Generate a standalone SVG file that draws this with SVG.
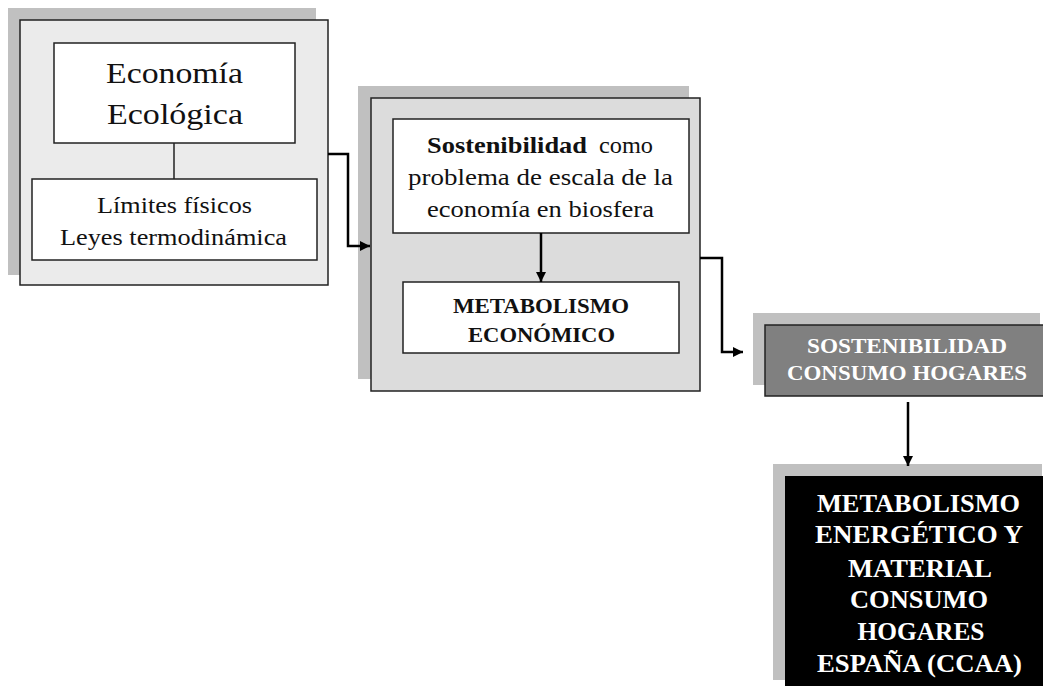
<svg xmlns="http://www.w3.org/2000/svg" width="1043" height="686" viewBox="0 0 1043 686">
  <style>
    .shadow { fill: #c0c0c0; }
    .frame { stroke: #222; stroke-width: 1.5; }
    .inner { fill: #fff; stroke: #222; stroke-width: 1.5; }
    .serif { font-family: "Times New Roman", "Liberation Serif", Tinos, Times, serif; font-weight: normal; fill: #111; }
    .light { font-family: "Times New Roman", "Liberation Serif", Tinos, Times, serif; fill: #fff; font-weight: bold; }
    .bold { font-weight: bold; }
    .wire { fill: none; stroke: #000; stroke-width: 2.5; }
    .thin { fill: none; stroke: #222; stroke-width: 1.5; }
  </style>
  <defs>
    <marker id="arrow" viewBox="0 0 10 10" refX="10" refY="5" markerWidth="4" markerHeight="4" markerUnits="strokeWidth" orient="auto">
      <path d="M0,0 L10,5 L0,10 z" fill="#000"/>
    </marker>
  </defs>
  <rect width="1043" height="686" fill="#fff"/>

  <!-- Economía Ecológica panel -->
  <g id="economia-ecologica">
    <rect class="shadow" x="8" y="8" width="308" height="267"/>
    <rect class="frame" x="20" y="20" width="308" height="265" fill="#ebebeb"/>
    <rect class="inner" x="54" y="43" width="241" height="100"/>
    <line class="thin" x1="174" y1="143" x2="174" y2="179"/>
    <rect class="inner" x="32" y="179" width="285" height="81"/>
    <text class="serif" font-size="30" x="174.5" y="83" text-anchor="middle" textLength="137" lengthAdjust="spacingAndGlyphs">Economía</text>
    <text class="serif" font-size="30" x="175" y="124" text-anchor="middle" textLength="136" lengthAdjust="spacingAndGlyphs">Ecológica</text>
    <text class="serif" font-size="23" x="174.5" y="213" text-anchor="middle" textLength="155" lengthAdjust="spacingAndGlyphs">Límites físicos</text>
    <text class="serif" font-size="23" x="173.5" y="245" text-anchor="middle" textLength="227" lengthAdjust="spacingAndGlyphs">Leyes termodinámica</text>
  </g>

  <!-- Sostenibilidad / metabolismo económico panel -->
  <g id="sostenibilidad-escala">
    <rect class="shadow" x="358" y="86" width="331" height="293"/>
    <rect class="frame" x="371" y="98" width="329" height="293" fill="#dcdcdc"/>
    <rect class="inner" x="393" y="119" width="296" height="114"/>
    <text class="serif bold" font-size="23" x="427" y="153" textLength="160" lengthAdjust="spacingAndGlyphs">Sostenibilidad</text>
    <text class="serif" font-size="23" x="599" y="153" textLength="54" lengthAdjust="spacingAndGlyphs">como</text>
    <text class="serif" font-size="23" x="540.5" y="185" text-anchor="middle" textLength="265" lengthAdjust="spacingAndGlyphs">problema de escala de la</text>
    <text class="serif" font-size="23" x="540.5" y="217" text-anchor="middle" textLength="227" lengthAdjust="spacingAndGlyphs">economía en biosfera</text>
  </g>
  <g id="metabolismo-economico">
    <rect class="inner" x="403" y="282" width="276" height="71"/>
    <text class="serif bold" font-size="21" x="541" y="313" text-anchor="middle" textLength="176" lengthAdjust="spacingAndGlyphs">METABOLISMO</text>
    <text class="serif bold" font-size="21" x="541.5" y="342" text-anchor="middle" textLength="147" lengthAdjust="spacingAndGlyphs">ECONÓMICO</text>
  </g>

  <!-- Sostenibilidad consumo hogares -->
  <g id="sostenibilidad-hogares">
    <rect class="shadow" x="753" y="313" width="287" height="72"/>
    <rect class="frame" x="765" y="325" width="285" height="71" fill="#808080"/>
    <text class="light" font-size="21" x="907" y="353" text-anchor="middle" textLength="200" lengthAdjust="spacingAndGlyphs">SOSTENIBILIDAD</text>
    <text class="light" font-size="21" x="907" y="380" text-anchor="middle" textLength="240" lengthAdjust="spacingAndGlyphs">CONSUMO HOGARES</text>
  </g>

  <!-- Metabolismo energético y material -->
  <g id="metabolismo-hogares">
    <rect class="shadow" x="773" y="464" width="269" height="216"/>
    <rect x="785" y="476" width="270" height="220" fill="#000"/>
    <text class="light" font-size="25" x="918.5" y="512" text-anchor="middle" textLength="203" lengthAdjust="spacingAndGlyphs">METABOLISMO</text>
    <text class="light" font-size="25" x="919" y="543" text-anchor="middle" textLength="208" lengthAdjust="spacingAndGlyphs">ENERGÉTICO Y</text>
    <text class="light" font-size="25" x="920" y="577" text-anchor="middle" textLength="144" lengthAdjust="spacingAndGlyphs">MATERIAL</text>
    <text class="light" font-size="25" x="919" y="608" text-anchor="middle" textLength="138" lengthAdjust="spacingAndGlyphs">CONSUMO</text>
    <text class="light" font-size="25" x="921" y="640" text-anchor="middle" textLength="127" lengthAdjust="spacingAndGlyphs">HOGARES</text>
    <text class="light" font-size="25" x="919.5" y="672" text-anchor="middle" textLength="205" lengthAdjust="spacingAndGlyphs">ESPAÑA (CCAA)</text>
  </g>

  <!-- Connectors -->
  <g id="connectors">
    <path class="wire" d="M328,154 H348 V246 H370" marker-end="url(#arrow)"/>
    <path class="wire" d="M541,233 V282" marker-end="url(#arrow)"/>
    <path class="wire" d="M700,258 H722 V352 H743" marker-end="url(#arrow)"/>
    <path class="wire" d="M908,402 V466" marker-end="url(#arrow)"/>
  </g>
</svg>
